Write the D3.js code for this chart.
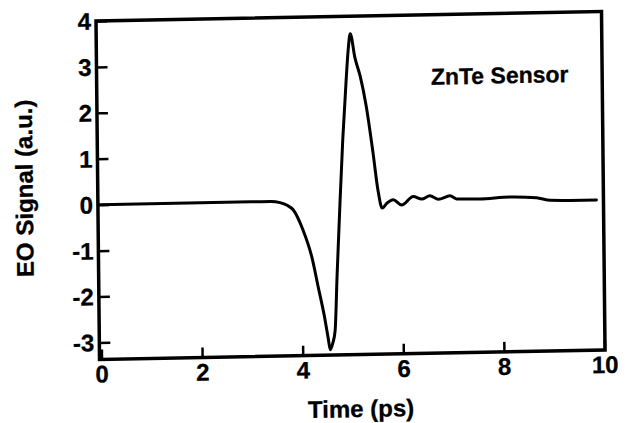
<!DOCTYPE html>
<html>
<head>
<meta charset="utf-8">
<script src="https://cdn.jsdelivr.net/npm/d3@7"></script>
<style>
  html, body { margin: 0; padding: 0; background: #fff; }
  svg { display: block; }
  text { font-family: "Liberation Sans", Arial, Helvetica, sans-serif; font-weight: bold; fill: #000; stroke: #000; stroke-width: 0.3px; }
</style>
</head>
<body>
<svg id="chart" width="626" height="423"></svg>
<script>
// Electro-optic sampling trace of a THz pulse measured with a ZnTe crystal
const timePs = [0, 1, 2, 3, 3.4, 3.58, 3.72, 3.84, 4.03, 4.20, 4.32, 4.45, 4.51, 4.55,
  4.60, 4.65, 4.70, 4.77, 4.84, 4.92, 4.97, 5.01, 5.10, 5.20, 5.31, 5.44, 5.53, 5.61,
  5.70, 5.83, 6.00, 6.23, 6.40, 6.56, 6.73, 6.96, 7.09, 7.55, 8.15, 8.68, 8.95, 9.34, 9.87];
const eoSignal = [0, 0, 0, 0, 0, -0.03, -0.09, -0.19, -0.63, -1.22, -1.87, -2.59, -3.0, -3.25,
  -3.11, -2.83, -1.63, -0.11, 1.31, 2.61, 3.31, 3.62, 3.09, 2.69, 2.06, 1.01, 0.20, -0.19,
  -0.09, -0.01, -0.13, 0.05, -0.01, 0.06, -0.02, 0.05, -0.02, -0.03, 0.0, -0.03, -0.09, -0.10, -0.10];
const xTicks = [0, 2, 4, 6, 8, 10];
const yTicks = [-3, -2, -1, 0, 1, 2, 3, 4];
const xTitle = "Time (ps)";
const yTitle = "EO Signal (a.u.)";
const sensorLabel = "ZnTe Sensor";

const W = 505.5, H = 338.5;
const svg = d3.select("#chart");
svg.append("rect").attr("width", 626).attr("height", 423).attr("fill", "#fff");

// the whole figure sits slightly tilted on the page
const g = svg.append("g").attr("transform", "matrix(1,-0.0188,0.0104,1,96,21)");

const x = d3.scaleLinear().domain([0, 10]).range([2, 505]);
const y = d3.scaleLinear().domain([-3.37, 4]).range([H, 0]);

// plain hyphen for negative numbers
const fmt = d => String(d);

// x axis: inward ticks
const xAxis = g.append("g").attr("transform", `translate(0,${H})`)
  .call(d3.axisBottom(x).tickValues(xTicks).tickFormat(fmt)
    .tickSizeInner(-10).tickSizeOuter(0).tickPadding(6));
xAxis.select(".domain").remove();
xAxis.selectAll("line").attr("stroke", "#000").attr("stroke-width", 2.5);
xAxis.selectAll("text").attr("font-size", 24).attr("fill", "#000");

// y axis: inward ticks
const yAxis = g.append("g")
  .call(d3.axisLeft(y).tickValues(yTicks).tickFormat(fmt)
    .tickSizeInner(-11).tickSizeOuter(0).tickPadding(5));
yAxis.select(".domain").remove();
yAxis.selectAll("line").attr("stroke", "#000").attr("stroke-width", 2.5);
yAxis.selectAll("text").attr("font-size", 24).attr("fill", "#000").attr("dy", "0.34em");

// frame
g.append("rect").attr("x", 0).attr("y", 0).attr("width", W).attr("height", H)
  .attr("fill", "none").attr("stroke", "#000").attr("stroke-width", 3.5);

// signal trace
const line = d3.line()
  .x((d, i) => x(timePs[i]))
  .y(d => y(d))
  .curve(d3.curveMonotoneX);
g.append("path").datum(eoSignal)
  .attr("d", line)
  .attr("fill", "none").attr("stroke", "#000").attr("stroke-width", 3)
  .attr("stroke-linejoin", "round").attr("stroke-linecap", "round");

// titles
g.append("text").attr("x", 261).attr("y", H + 62.5).attr("text-anchor", "middle")
  .attr("font-size", 24).text(xTitle);
g.append("text").attr("transform", "translate(-65,166) rotate(-90)").attr("text-anchor", "middle")
  .attr("font-size", 24).text(yTitle);
g.append("text").attr("x", 403).attr("y", 70).attr("text-anchor", "middle")
  .attr("font-size", 23).text(sensorLabel);
</script>
</body>
</html>
